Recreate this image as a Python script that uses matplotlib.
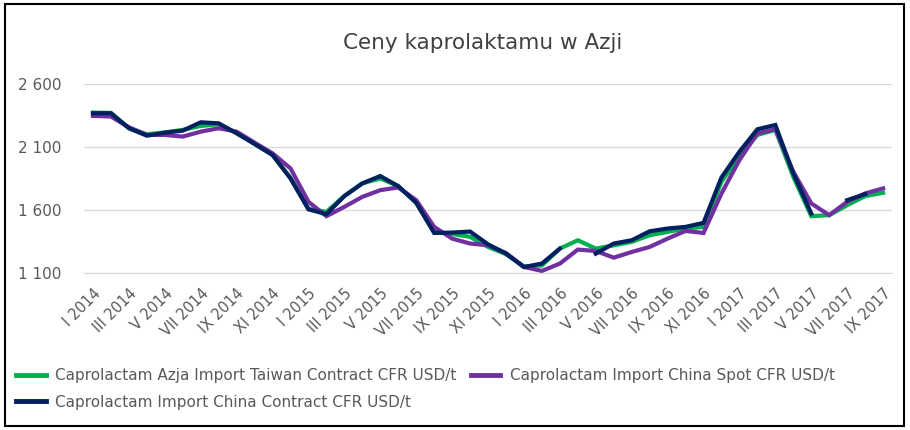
import numpy as np
import matplotlib.pyplot as plt
from matplotlib.patches import Rectangle

# monthly series, I 2014 .. IX 2017
months = ["I", "II", "III", "IV", "V", "VI", "VII", "VIII", "IX", "X", "XI", "XII"]
labels = [f"{months[i % 12]} {2014 + i // 12}" for i in range(45)]

taiwan_contract = [2372, 2370, 2250, 2200, 2215, 2235, 2266, 2280, 2210, 2125,
                   2036, 1855, 1610, 1585, 1712, 1811, 1850, 1789, 1657, 1425,
                   1410, 1387, 1307, 1250, 1152, 1160, 1294, 1360, 1294, 1320,
                   1347, 1400, 1426, 1453, 1466, 1823, 2028, 2195, 2235, 1863,
                   1551, 1559, 1638, 1710, 1736]

china_spot = [2346, 2341, 2256, 2195, 2195, 2182, 2221, 2248, 2221, 2134,
              2049, 1930, 1665, 1551, 1625, 1704, 1757, 1779, 1678, 1466,
              1373, 1334, 1320, 1259, 1148, 1117, 1175, 1286, 1275, 1222,
              1267, 1307, 1373, 1434, 1418, 1731, 1996, 2208, 2240, 1903,
              1652, 1559, 1665, 1731, 1771]

china_contract = [2367, 2367, 2248, 2189, 2213, 2229, 2295, 2287, 2208, 2123,
                  2036, 1850, 1605, 1567, 1710, 1811, 1869, 1789, 1657, 1418,
                  1421, 1429, 1328, 1254, 1148, 1175, 1294, np.nan, 1254, 1334,
                  1360, 1431, 1453, 1466, 1498, 1858, 2062, 2240, 2274, 1890,
                  1572, np.nan, 1678, 1726, np.nan]

names = ["Caprolactam Azja Import Taiwan Contract CFR USD/t",
         "Caprolactam Import China Spot CFR USD/t",
         "Caprolactam Import China Contract CFR USD/t"]
colors = ["#00B050", "#7030A0", "#002060"]

fig = plt.figure(figsize=(9.1, 4.3), dpi=100)
ax = fig.add_axes([0.0923, 0.365, 0.888, 0.44])

x = np.arange(len(labels))
h = []
for ys, name, c in zip([taiwan_contract, china_spot, china_contract], names, colors):
    ln, = ax.plot(x, ys, color=c, lw=3, label=name, solid_joinstyle="miter")
    h.append(ln)

ax.set_xlim(-0.5, len(labels) - 0.5)
ax.set_ylim(1100, 2600)
ax.set_yticks([1100, 1600, 2100, 2600])
ax.set_yticklabels(["1 100", "1 600", "2 100", "2 600"])
ax.set_xticks(x[::2])
ax.set_xticklabels(labels[::2], rotation=45, ha="right", rotation_mode="anchor")
ax.tick_params(length=0, colors="#595959")
ax.tick_params(axis="y", labelsize=11, pad=16)
ax.tick_params(axis="x", labelsize=10.5, pad=9)
ax.grid(axis="y", color="#D9D9D9", lw=1)
ax.set_axisbelow(True)
for s in ["left", "right", "top"]:
    ax.spines[s].set_visible(False)
ax.spines["bottom"].set_color("#D9D9D9")

fig.text(0.53, 0.9, "Ceny kaprolaktamu w Azji", ha="center", va="center",
         fontsize=15.5, color="#404040")

# legend row-wise: green, purple / navy
leg = fig.legend([h[0], h[2], h[1]], [names[0], names[2], names[1]],
                 ncol=2, loc="lower left", bbox_to_anchor=(0.003, 0.015),
                 frameon=False, fontsize=11, handlelength=1.9,
                 columnspacing=1.0, labelspacing=0.75, handletextpad=0.6)
for t in leg.get_texts():
    t.set_color("#595959")
for l in leg.get_lines():
    l.set_linewidth(3.5)

fig.patches.append(Rectangle((0.005, 0.01), 0.988, 0.98, transform=fig.transFigure,
                             fill=False, edgecolor="black", lw=1.5))

fig.savefig("out.png", dpi=100)
